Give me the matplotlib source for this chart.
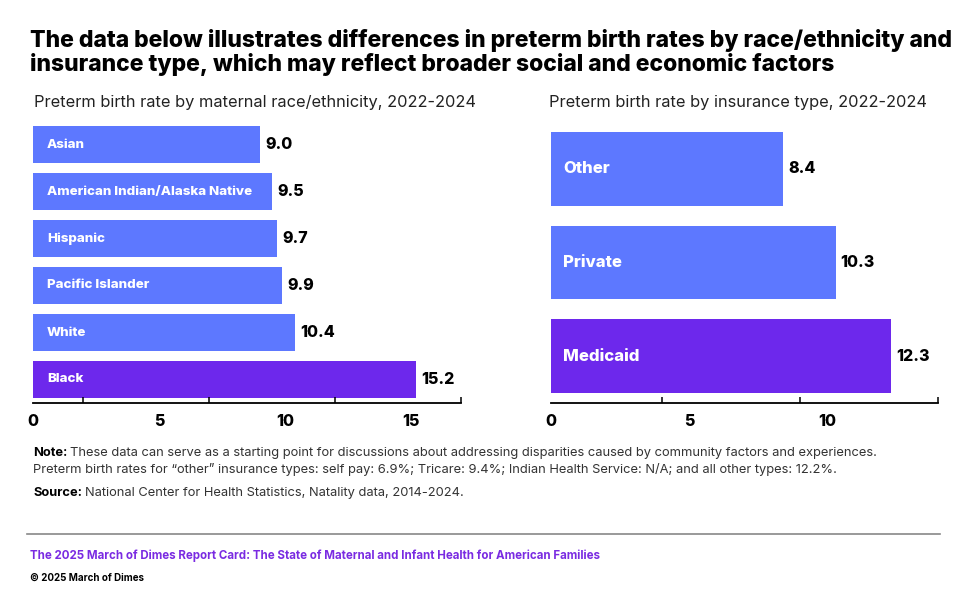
import matplotlib.pyplot as plt

# data
race_labels = ['Asian', 'American Indian/Alaska Native', 'Hispanic',
               'Pacific Islander', 'White', 'Black']
race_rates = [9.0, 9.5, 9.7, 9.9, 10.4, 15.2]
ins_labels = ['Other', 'Private', 'Medicaid']
ins_rates = [8.4, 10.3, 12.3]
race_ticks = [0, 5, 10, 15]
ins_ticks = [0, 5, 10]

BLUE = '#5D78FF'
PURPLE = '#6D28EC'
FONT = 'Inter'

fig = plt.figure(figsize=(9.8, 6.08), dpi=100)
W, H = 980, 608
renderer = fig.canvas.get_renderer()


def axes_px(x0, x1, y0, y1):
    return fig.add_axes([x0 / W, 1 - y1 / H, (x1 - x0) / W, (y1 - y0) / H])


def fit(t, width_px):
    # shrink/grow a text so that it spans the given width in pixels
    w = t.get_window_extent(renderer).width
    t.set_fontsize(t.get_fontsize() * width_px / w)
    return t


def text_px(x, y, s, **kw):
    return fig.text(x / W, 1 - y / H, s, va='center', ha='left', **kw)


def bar_panel(ax, labels, rates, xmax, minor, lab_size, val_size, lab_pad, val_pad):
    colors = [BLUE] * (len(rates) - 1) + [PURPLE]
    y = list(range(len(rates)))
    ax.barh(y, rates, height=0.79, color=colors)
    ax.set_ylim(len(rates) - 0.5, -0.5)
    ax.set_xlim(0, xmax)
    for yi, lab, r in zip(y, labels, rates):
        ax.text(lab_pad, yi, lab, color='white', fontweight='heavy', fontsize=lab_size,
                va='center', ha='left', family=FONT)
        ax.text(r + val_pad, yi, f'{r:.1f}', color='black', fontweight='heavy',
                fontsize=val_size, va='center', ha='left', family=FONT)
    for s in ['top', 'right', 'left']:
        ax.spines[s].set_visible(False)
    ax.spines['bottom'].set_linewidth(1.3)
    ax.set_yticks([])
    ax.set_xticks(minor, minor=True)
    ax.tick_params(axis='x', which='major', length=0, pad=8)
    ax.tick_params(axis='x', which='minor', length=4, width=1.1, direction='in')
    for t in ax.get_xticklabels():
        t.set_fontweight('heavy')
        t.set_fontsize(11.5)
        t.set_family(FONT)


ax1 = axes_px(33, 461, 121, 403)
ax1.set_xticks(race_ticks)
bar_panel(ax1, race_labels, race_rates, 17, [2, 7, 12, 17], 9.6, 11.5, 0.55, 0.22)

ax2 = axes_px(551, 938, 122, 403)
ax2.set_xticks(ins_ticks)
bar_panel(ax2, ins_labels, ins_rates, 14, [4, 9, 14], 12, 11.5, 0.45, 0.18)

# titles
t1 = text_px(30, 40, 'The data below illustrates differences in preterm birth rates by race/ethnicity and',
             fontsize=16.5, fontweight='heavy', family=FONT)
fit(t1, 923)
t2 = text_px(30, 65, 'insurance type, which may reflect broader social and economic factors',
             fontsize=t1.get_fontsize(), fontweight='heavy', family=FONT)
s1 = text_px(34, 102, 'Preterm birth rate by maternal race/ethnicity, 2022-2024',
             fontsize=11.5, family=FONT, color='#222222')
fit(s1, 441)
s2 = text_px(549, 102, 'Preterm birth rate by insurance type, 2022-2024',
             fontsize=s1.get_fontsize(), family=FONT, color='#222222')

# notes
nkw = dict(family=FONT, color='#333333')
l2 = text_px(33, 469, 'Preterm birth rates for \u201cother\u201d insurance types: self pay: 6.9%; Tricare: 9.4%; '
             'Indian Health Service: N/A; and all other types: 12.2%.', fontsize=9, **nkw)
fit(l2, 808)
fs = l2.get_fontsize()
nb = text_px(33, 453, 'Note:', fontsize=fs, fontweight='bold', family=FONT, color='black')
nw = nb.get_window_extent(renderer).width
text_px(33 + nw + 3, 453, 'These data can serve as a starting point for discussions about addressing '
        'disparities caused by community factors and experiences.', fontsize=fs, **nkw)
sb = text_px(33, 493, 'Source:', fontsize=fs, fontweight='bold', family=FONT, color='black')
sw = sb.get_window_extent(renderer).width
text_px(33 + sw + 3, 493, 'National Center for Health Statistics, Natality data, 2014-2024.',
        fontsize=fs, **nkw)

fig.add_artist(plt.Line2D([27 / W, 940 / W], [1 - 534 / H, 1 - 534 / H], color='#888888', lw=1.2))
f1 = text_px(30, 556, 'The 2025 March of Dimes Report Card: The State of Maternal and Infant Health '
             'for American Families', fontsize=8, family=FONT, fontweight='bold', color='#7A2BE2')
fit(f1, 573)
f2 = text_px(30, 578, '\u00a9 2025 March of Dimes', fontsize=7, family=FONT,
             fontweight='bold', color='black')
fit(f2, 114)

fig.savefig('out.png', dpi=100)
